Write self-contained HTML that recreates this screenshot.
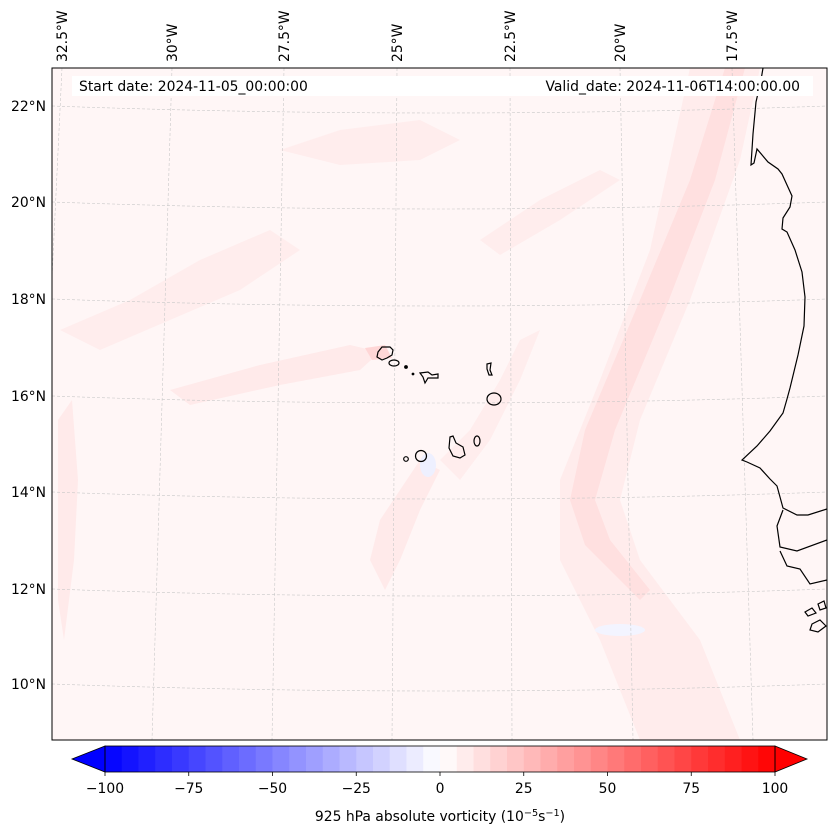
<!DOCTYPE html>
<html><head><meta charset="utf-8">
<style>
body{margin:0;background:#fff;width:837px;height:839px;overflow:hidden;font-family:"DejaVu Sans","Liberation Sans",sans-serif;}
svg{display:block}
text{font-family:"DejaVu Sans","Liberation Sans",sans-serif;font-size:13.9px;fill:#000}
</style></head>
<body>
<svg id="fig" width="837" height="839" viewBox="0 0 837 839" xmlns="http://www.w3.org/2000/svg">
<defs><clipPath id="mapclip"><rect x="52" y="68" width="775" height="672"/></clipPath></defs>
<g id="map" clip-path="url(#mapclip)">
  <rect x="52" y="68" width="775" height="672" fill="#fff6f6"/>
  <g>
    <path d="M690,68 L760,68 L740,160 L690,300 L640,420 L620,500 L640,560 L700,640 L740,740 L640,740 L600,640 L560,560 L560,480 L600,380 L650,250 Z" fill="#ffecec"/>
    <path d="M725,68 L745,68 L715,180 L665,310 L615,430 L595,500 L610,540 L650,590 L640,600 L585,545 L570,500 L585,430 L640,300 L690,180 Z" fill="#ffe0e0"/>
    <path d="M60,330 L130,300 L200,260 L270,230 L300,250 L240,290 L170,320 L100,350 Z" fill="#ffeded"/>
    <path d="M170,390 L260,365 L350,345 L380,352 L360,370 L280,385 L190,405 Z" fill="#ffeaea"/>
    <path d="M365,348 L385,345 L392,358 L372,360 Z" fill="#ffd6d6"/>
    <path d="M370,560 L380,520 L400,490 L420,460 L440,470 L420,510 L400,560 L385,590 Z" fill="#ffeaea"/>
    <path d="M440,460 L470,430 L500,380 L520,340 L540,330 L520,380 L490,440 L460,480 Z" fill="#ffeded"/>
    <path d="M58,420 L72,400 L78,480 L74,560 L64,640 L58,600 Z" fill="#ffeaea"/>
    <path d="M280,150 L340,130 L420,120 L460,140 L420,160 L340,165 Z" fill="#ffeded"/>
    <path d="M480,240 L540,200 L600,170 L620,180 L560,220 L500,255 Z" fill="#ffeded"/>
    <ellipse cx="428" cy="465" rx="8" ry="12" fill="#eef0ff"/>
    <ellipse cx="620" cy="630" rx="25" ry="6" fill="#f3f4ff"/>
  </g>
  <g id="grid" stroke="#c8c8c8" stroke-width="0.6" stroke-dasharray="3,2" fill="none"></g>
  <g fill="none" stroke="#000" stroke-width="1.2">
    <path d="M763,68 L761,80 L756,102 L753,134 L751,165 L754,163 L757,149 L768,162 L778,169 L782,174 L787,185 L792,196 L790,207 L783,218 L782,229 L787,232 L795,250 L802,272 L805,297 L804,326 L798,355 L790,388 L787,399 L783,413 L770,431 L757,446 L742,460 L747,462 L760,468 L770,479 L777,486 L780,497 L783,508 L797,515 L808,515 L827,509"/>
    <path d="M783,510 L777,526 L780,547 L797,551 L827,540"/>
    <path d="M780,551 L787,566 L800,569 L810,584 L827,580"/>
    <path d="M805,612 L812,608 L816,613 L808,616 Z M812,624 L820,620 L826,626 L818,632 L810,630 Z M818,604 L824,601 L826,608 L820,610 Z"/>
    <path d="M378,352 L382,347 L390,347 L393,350 L392,355 L387,358 L382,360 L377,357 Z"/>
    <ellipse cx="394" cy="363" rx="5" ry="3"/>
    <circle cx="406" cy="367" r="1.3" fill="#000"/>
    <circle cx="413" cy="374" r="0.8" fill="#000"/>
    <path d="M420,373 L428,372 L432,375 L438,374 L438,378 L428,378 L425,383 L423,377 Z"/>
    <path d="M487,364 L491,363 L490,370 L492,375 L489,375 L487,369 Z"/>
    <ellipse cx="494" cy="399" rx="7" ry="6"/>
    <path d="M450,437 L453,436 L456,443 L463,447 L465,455 L460,458 L453,456 L449,448 Z"/>
    <ellipse cx="477" cy="441" rx="3" ry="5"/>
    <circle cx="421" cy="456" r="5.5"/>
    <circle cx="406" cy="459" r="2.3"/>
  </g>
  <rect x="72" y="76" width="741" height="20" fill="#fff"/>
  <text x="79" y="91">Start date: 2024-11-05_00:00:00</text>
  <text x="800" y="91" text-anchor="end">Valid_date: 2024-11-06T14:00:00.00</text>
</g>
<rect x="52" y="68" width="775" height="672" fill="none" stroke="#000" stroke-width="1"/>
<g id="latlabels"></g>
<g id="lonlabels"></g>
<g id="cbar"></g>
<text x="440" y="821" text-anchor="middle">925 hPa absolute vorticity (10<tspan font-size="9.7" dy="-5">−5</tspan><tspan dy="5">s</tspan><tspan font-size="9.7" dy="-5">−1</tspan><tspan dy="5">)</tspan></text>
</svg>
<script>
const levels = [];
for (let v = -100; v <= 100; v += 5) levels.push(v);
const cbarTicks = [-100, -75, -50, -25, 0, 25, 50, 75, 100];
const cbarTickLabels = ["−100", "−75", "−50", "−25", "0", "25", "50", "75", "100"];
const latLabels = ["22°N", "20°N", "18°N", "16°N", "14°N", "12°N", "10°N"];
const lonLabels = ["32.5°W", "30°W", "27.5°W", "25°W", "22.5°W", "20°W", "17.5°W"];

const NS = "http://www.w3.org/2000/svg";
function mk(tag, attrs, parent){const e=document.createElementNS(NS,tag);for(const k in attrs)e.setAttribute(k,attrs[k]);parent.appendChild(e);return e;}

const cb = document.getElementById('cbar');
const x0 = 105, x1 = 775, yT = 746, yB = 772;
const cx = v => x0 + (v - levels[0]) / (levels[levels.length-1] - levels[0]) * (x1 - x0);
function bwr(v){const t=(v+100)/200;let r,g,b;if(t<0.5){r=g=t*2;b=1;}else{r=1;g=b=2-t*2;}return `rgb(${Math.round(r*255)},${Math.round(g*255)},${Math.round(b*255)})`;}
for (let i = 0; i < levels.length - 1; i++) {
  const mid = (levels[i] + levels[i+1]) / 2;
  const r = mk('rect', {x: cx(levels[i]), y: yT, width: cx(levels[i+1]) - cx(levels[i]) + 0.5, height: yB - yT, fill: bwr(mid)}, cb);
  
  
}
const tl = mk('polygon', {points: `${x0},${yT} 72,${(yT+yB)/2} ${x0},${yB}`, fill: '#0000ff', stroke:'#000','stroke-width':0.8}, cb);


const tr = mk('polygon', {points: `${x1},${yT} 807,${(yT+yB)/2} ${x1},${yB}`, fill: '#ff0000', stroke:'#000','stroke-width':0.8}, cb);


const fr = mk('rect', {x: x0, y: yT, width: x1 - x0, height: yB - yT, fill: 'none', stroke: '#000', 'stroke-width': 0.8}, cb);


cbarTicks.forEach((v, i) => {
  const t = mk('line', {x1: cx(v), x2: cx(v), y1: yB, y2: yB + 4, stroke: '#000', 'stroke-width': 0.8}, cb);
  
  
  const lab = mk('text', {x: cx(v), y: yB + 21, 'text-anchor': 'middle'}, cb);
  
  
  lab.textContent = cbarTickLabels[i];
});

const grid = document.getElementById('grid');
const latY = [106, 202, 299, 396, 492, 589, 684];
latY.forEach(y => {
  const p = mk('path', {d: `M52,${y} Q440,${y+14} 827,${y}`}, grid);
  
  
});
const lonTop = [62, 172, 284, 397, 510, 620, 732];
const lonBot = [30, 152, 272, 392, 512, 633, 753];
lonTop.forEach((xt, i) => {
  const p = mk('line', {x1: xt, y1: 68, x2: lonBot[i], y2: 740}, grid);
  
  
});

const la = document.getElementById('latlabels');
latLabels.forEach((s, i) => {
  const t = mk('text', {x: 46, y: latY[i] + 5, 'text-anchor': 'end'}, la);
  
  
  t.textContent = s;
});
const lo = document.getElementById('lonlabels');
lonLabels.forEach((s, i) => {
  const t = mk('text', {x: 0, y: 0, transform: `translate(${lonTop[i]+5},62) rotate(-90)`}, lo);
  
  
  t.textContent = s;
});
</script>
</body></html>
